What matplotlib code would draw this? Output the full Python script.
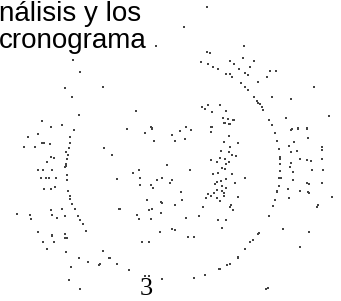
import matplotlib
matplotlib.use("Agg")
import matplotlib.pyplot as plt

# text fragments on the scanned page
line_1 = "nálisis y los"
line_2 = "cronograma"
page_no = "3"

# scattered scan dots (pixel positions, y down)
dot_x = [
    # top right speckle
    207, 184, 156, 244, 207, 210, 243, 201, 208, 213, 218, 230, 234, 254, 250, 239,
    226, 230, 232, 245, 248, 270, 276, 267, 241, 258, 245, 248, 314, 254, 257, 258,
    260, 262, 263, 272, 291, 202, 208, 205, 212, 220, 226, 223, 228, 234, 225, 230,
    286, 329, 186, 212, 292, 298, 307,
    # left arc and left cluster
    73, 80, 65, 72, 103, 79, 136, 42, 51, 62, 74, 38, 28, 70, 127, 152, 145, 154,
    42, 44, 50, 70, 24, 35, 69, 104, 66, 68, 112, 51, 54, 67, 47, 66, 66, 38, 43,
    52, 65, 167, 139, 133, 67, 41, 46, 49, 56, 117, 140, 162, 67, 44, 51, 55, 68,
    70, 70, 72, 75, 62, 51, 17, 30, 52, 31, 57, 65, 78, 80, 83, 86, 38, 52, 65, 67,
    43, 54, 47, 119,
    # centre field
    127, 151, 152, 145, 154, 172, 180, 186, 191, 175, 185, 104, 112, 167, 133, 190,
    140, 117, 162, 157, 172, 170, 140, 151, 153, 181, 147, 161, 182, 162, 175, 120,
    152, 149, 161, 137, 139, 151, 186, 160, 172, 175, 188, 194, 142, 149, 103, 110,
    # diagonal band
    211, 211, 224, 229, 233, 229, 238, 224, 230, 229, 221, 232, 236, 220, 225, 211,
    217, 229, 226, 222, 225, 232, 218, 213, 226, 217, 221, 215, 235, 222, 226, 217,
    222, 224, 214, 208, 211, 206, 220, 217, 224, 238, 231, 230, 233, 203, 199, 218,
    226, 222, 245, 238,
    # right arc
    269, 272, 275, 277, 279, 280, 280, 280, 279, 279, 277, 275, 273, 269, 259, 258,
    253, 250, 245, 238, 230, 227, 220, 268, 266, 280, 281, 277, 275,
    # right cluster
    291, 298, 307, 308, 294, 289, 291, 297, 300, 307, 311, 291, 290, 293, 312, 293,
    307, 309, 288, 300, 308, 309, 289, 318, 317, 322, 322, 322, 323, 322, 332, 283,
    309, 300,
    # bottom
    117, 129, 162, 194, 205, 219, 100, 145, 149,
    52, 65, 66, 79, 88, 71, 99, 109, 69, 80,
]
dot_y = [
    7, 27, 46, 46, 52, 53, 58, 62, 64, 67, 69, 61, 64, 61, 67, 69,
    74, 74, 77, 73, 75, 71, 71, 77, 83, 82, 87, 90, 87, 97, 101, 103,
    104, 107, 110, 97, 99, 107, 105, 109, 112, 105, 111, 118, 119, 120, 123, 124,
    118, 116, 127, 127, 129, 128, 128,
    60, 72, 88, 97, 87, 115, 111, 121, 127, 125, 130, 134, 137, 137, 129, 128, 133, 141,
    143, 143, 144, 143, 147, 147, 148, 148, 152, 155, 155, 157, 158, 159, 162, 164, 166, 170, 170,
    170, 167, 165, 170, 173, 175, 178, 178, 178, 178, 179, 178, 178, 180, 189, 189, 187, 191,
    196, 199, 204, 209, 209, 210, 214, 215, 215, 219, 218, 216, 216, 220, 224, 231, 232, 235, 234, 238,
    242, 242, 249, 209,
    129, 127, 129, 133, 141, 135, 131, 127, 130, 141, 139, 148, 155, 165, 173, 170,
    178, 179, 178, 180, 180, 183, 185, 185, 188, 192, 200, 202, 200, 203, 205, 209,
    209, 210, 213, 215, 219, 219, 218, 232, 229, 230, 237, 237, 242, 242, 251, 258,
    127, 132, 123, 124, 120, 136, 143, 142, 147, 152, 151, 155, 156, 158, 159, 160,
    162, 162, 164, 168, 169, 174, 173, 174, 179, 182, 181, 184, 183, 186, 188, 190,
    191, 193, 193, 194, 196, 198, 201, 198, 196, 197, 205, 207, 210, 207, 216, 220,
    220, 228, 178, 258,
    120, 125, 133, 141, 149, 159, 164, 171, 178, 186, 192, 200, 206, 216, 233, 234,
    240, 242, 249, 257, 264, 265, 269, 288, 289, 157, 178, 191, 200,
    130, 129, 129, 138, 142, 146, 152, 151, 159, 160, 161, 163, 167, 172, 170, 180,
    183, 184, 189, 191, 192, 193, 198, 205, 207, 147, 150, 159, 170, 183, 197, 229,
    232, 247,
    264, 270, 279, 278, 275, 269, 264, 276, 276,
    236, 238, 252, 258, 262, 267, 265, 258, 280, 289,
]

fig = plt.figure(figsize=(3.41, 3.01), dpi=100)
ax = fig.add_axes([0, 0, 1, 1])
ax.set_xlim(0, 341)
ax.set_ylim(301, 0)
ax.axis("off")

ax.scatter(dot_x, dot_y, s=2.0, marker="s", color="#444444", linewidths=0)

ax.text(-1, 21, line_1, fontsize=20, family="Liberation Sans", color="black",
        va="baseline", ha="left")
ax.text(-1, 48, line_2, fontsize=20, family="Liberation Sans", color="black",
        va="baseline", ha="left")
ax.text(146, 295, page_no, fontsize=19, family="Liberation Serif", color="black",
        va="baseline", ha="center")

fig.savefig("out.png", dpi=100, facecolor="white")
